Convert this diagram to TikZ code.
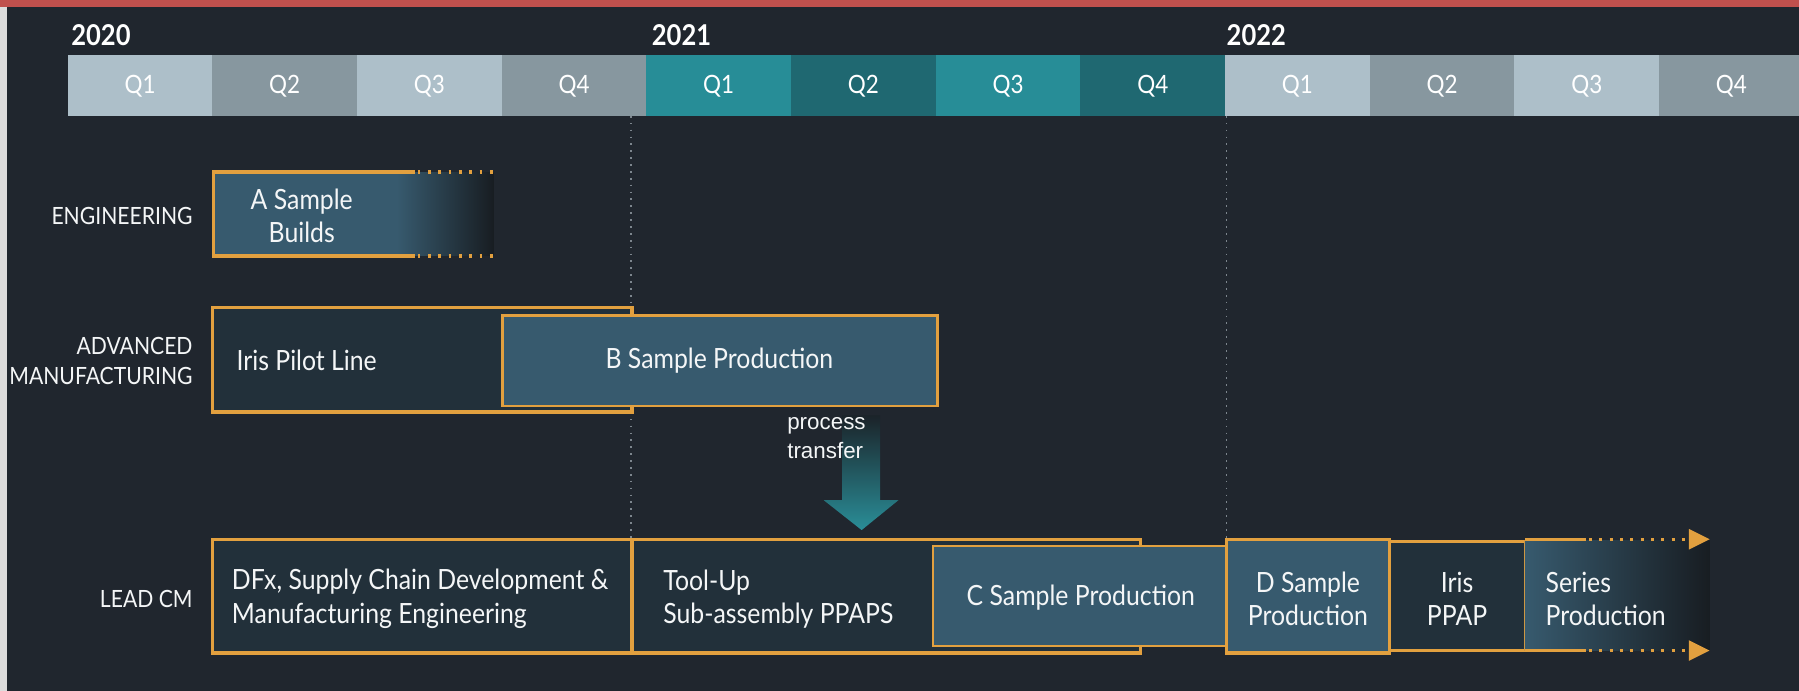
\documentclass[tikz,border=0pt]{standalone}
\usepackage{fontspec}
\newfontfamily\tw{Lato}[FakeStretch=0.89]
\newfontfamily\ar{Liberation Sans}
\definecolor{bg}{HTML}{20262E}
\definecolor{topred}{HTML}{C0504D}
\definecolor{edge}{HTML}{DCDCDC}
\definecolor{orng}{HTML}{E2A03F}
\definecolor{bluefill}{HTML}{375A6E}
\definecolor{darkfill}{HTML}{22303A}
\definecolor{fadeend}{HTML}{181D22}
\definecolor{qlight}{HTML}{ADBFC9}
\definecolor{qdark}{HTML}{87979F}
\definecolor{teall}{HTML}{278D97}
\definecolor{teald}{HTML}{1F6871}
\definecolor{txt}{HTML}{F4F6F7}
\definecolor{vline}{HTML}{7D868E}
\definecolor{arrtop}{HTML}{1B2329}
\definecolor{arrbot}{HTML}{2A8E98}
\tikzset{
  yearlbl/.style={text=white, inner sep=0pt, anchor=west, font=\tw\bfseries\fontsize{25}{28}\selectfont},
  qlbl/.style={text=white, inner sep=0pt, font=\tw\fontsize{22}{26}\selectfont},
  rowlbl/.style={text=txt, inner sep=0pt, anchor=east, align=right, font=\tw\fontsize{20.7}{26}\selectfont},
  btxt/.style={text=txt, inner sep=0pt, font=\tw\fontsize{24.3}{29}\selectfont},
  obord/.style={draw=orng, line width=3pt, line join=miter},
  othin/.style={draw=orng, line width=2pt, line join=miter},
  odot/.style={draw=orng, line width=3pt, dash pattern=on 2.5pt off 6.5pt},
  vdot/.style={draw=vline, line width=1.5pt, dash pattern=on 1.5pt off 4.5pt},
  tip/.style={fill=orng}
}
\begin{document}
\begin{tikzpicture}[x=1pt,y=-1pt]
\useasboundingbox (0,0) rectangle (1568,602);
% background
\fill[bg] (0,0) rectangle (1568,602);
\fill[edge] (0,6) rectangle (6,602);
\fill[topred] (0,0) rectangle (1568,6);
% quarter bar
\foreach \i/\c/\q in {0/qlight/Q1,1/qdark/Q2,2/qlight/Q3,3/qdark/Q4,
                      4/teall/Q1,5/teald/Q2,6/teall/Q3,7/teald/Q4,
                      8/qlight/Q1,9/qdark/Q2,10/qlight/Q3,11/qdark/Q4}{
  \fill[\c] ({59+126.1*\i},48) rectangle ({59+126.1*(\i+1)},101);
  \node[qlbl] (q\i) at ({59+126.1*(\i+0.5)},75) {\q};
}
% years
\node[yearlbl] (y2020) at (62,31) {2020};
\node[yearlbl] (y2021) at (568,31) {2021};
\node[yearlbl] (y2022) at (1069,31) {2022};
% vertical dotted lines
\draw[vdot] (550,101) -- (550,470);
\draw[vdot] (1069,101) -- (1069,470);
% row labels
\node[rowlbl] (eng) at (168,188) {ENGINEERING};
\node[rowlbl] (adv) at (168,315) {ADVANCED\\MANUFACTURING};
\node[rowlbl] (lead) at (168,522) {LEAD CM};
% Engineering: A sample builds
\fill[bluefill] (186,150) rectangle (346,223);
\shade[left color=bluefill, right color=fadeend] (346,150) rectangle (430,223);
\draw[obord] (362,150) -- (186,150) -- (186,223) -- (362,223);
\draw[odot] (364,150) -- (430,150);
\draw[odot] (364,223) -- (430,223);
\node[btxt, align=center] (asample) at (263,188) {A Sample\\Builds};
% Advanced manufacturing
\draw[obord, fill=darkfill] (185,268) rectangle (551,359);
\node[btxt, anchor=west] (pilot) at (206,314) {Iris Pilot Line};
\draw[othin, fill=bluefill] (438,275) rectangle (817,354);
\node[btxt] (bsample) at (627,314) {B Sample Production};
% process transfer arrow
\shade[top color=arrtop, bottom color=arrbot] (734,362) -- (767,362) -- (767,436) -- (783,436) -- (751,462) -- (718,436) -- (734,436) -- cycle;
\node[text=txt, inner sep=0pt, anchor=west, align=left, font=\ar\fontsize{19.5}{25}\selectfont] (ptrans) at (686,382) {process\\transfer};
% Lead CM
\draw[obord, fill=darkfill] (185,470) rectangle (551,569);
\node[btxt, anchor=west, align=left] (dfx) at (202,522) {DFx, Supply Chain Development \&\\Manufacturing Engineering};
\draw[obord, fill=darkfill] (551,470) rectangle (994,569);
\node[btxt, anchor=west, align=left] (toolup) at (578,522) {Tool-Up\\Sub-assembly PPAPS};
\draw[othin, fill=bluefill] (813,476) rectangle (1069,563);
\node[btxt] (csample) at (942,521) {C Sample Production};
\draw[obord, fill=bluefill] (1069,470) rectangle (1211,569);
\node[btxt, align=center] (dsample) at (1140,522) {D Sample\\Production};
\draw[othin, fill=darkfill] (1211,472) rectangle (1329,567);
\node[btxt, align=center] (ppap) at (1270,522) {Iris\\PPAP};
% Series production
\shade[left color=bluefill, right color=fadeend] (1329,471) rectangle (1490,567);
\draw[obord] (1329,470) -- (1382,470);
\draw[odot] (1385,470) -- (1470,470);
\fill[tip] (1472,461) -- (1490,470) -- (1472,479) -- cycle;
\draw[obord] (1329,567) -- (1382,567);
\draw[odot] (1385,567) -- (1470,567);
\fill[tip] (1472,558) -- (1490,567) -- (1472,576) -- cycle;
\node[btxt, anchor=west, align=left] (series) at (1347,522) {Series\\Production};
\end{tikzpicture}
\end{document}
